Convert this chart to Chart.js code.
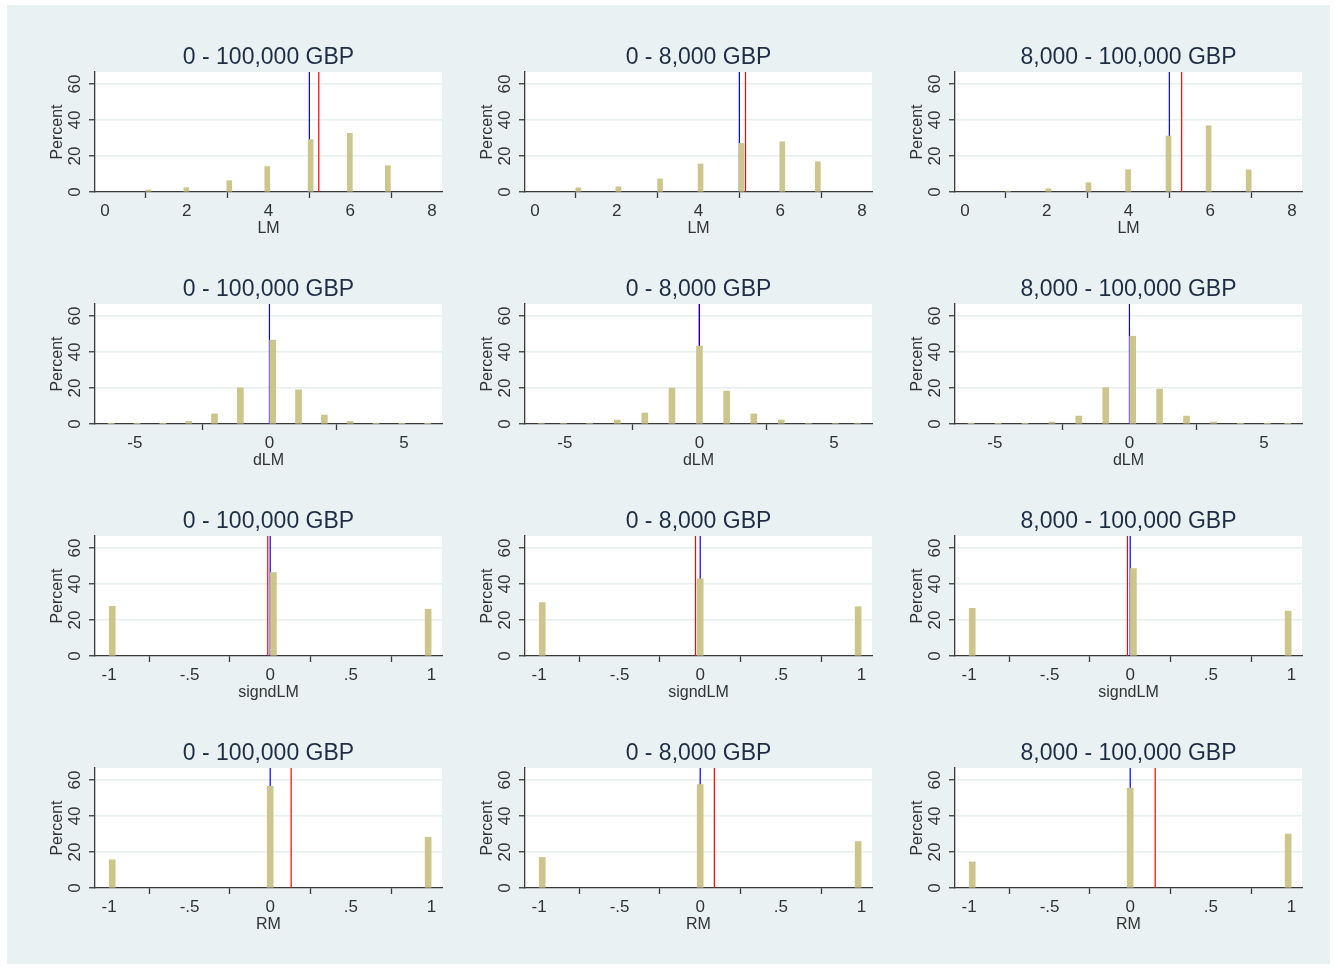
<!DOCTYPE html>
<html>
<head>
<meta charset="utf-8">
<script src="https://cdn.jsdelivr.net/npm/chart.js"></script>
<style>
    body {
        margin: 0;
        background: #ffffff;
    }
    #graph {
        position: absolute;
        left: 7px;
        top: 5px;
        width: 1323px;
        height: 959px;
        background: #e9f1f3;
    }
    canvas {
        position: absolute;
    }
</style>
</head>
<body>
<div id="graph"></div>

<script>
    // ---- data ----
    const panelTitles = ['0 - 100,000 GBP', '0 - 8,000 GBP', '8,000 - 100,000 GBP'];
    const varNames = ['LM', 'dLM', 'signdLM', 'RM'];
    const yTicks = [0, 20, 40, 60];

    // LM: bin centres and percent, one row per column
    const lmBins = [
        [1.06, 1.99, 3.04, 3.97, 5.03, 5.99, 6.92],
        [1.06, 2.04, 3.06, 4.05, 5.05, 6.05, 6.92],
        [1.05, 2.04, 3.02, 3.99, 4.98, 5.96, 6.94]
    ];
    const lmPercent = [
        [1.1, 2.4, 6.3, 14.1, 29.1, 32.6, 14.6],
        [2.3, 2.9, 7.3, 15.6, 27.0, 27.9, 16.8],
        [0.5, 1.8, 5.2, 12.4, 31.1, 36.8, 12.3]
    ];
    const lmMedian = [5, 5, 5];
    const lmMean = [5.23, 5.15, 5.30];

    // dLM
    const dlmBins = [
        [-5.88, -4.92, -3.96, -3.0, -2.04, -1.08, 0.12, 1.08, 2.04, 3.0, 3.96, 4.92, 5.88],
        [-5.87, -5.05, -4.08, -3.05, -2.03, -1.02, 0.0, 1.01, 2.02, 3.04, 4.05, 5.05, 5.87],
        [-5.88, -4.88, -3.88, -2.88, -1.88, -0.88, 0.12, 1.12, 2.12, 3.12, 4.12, 5.12, 5.88]
    ];
    const dlmPercent = [
        [0.3, 0.3, 0.3, 1.4, 5.6, 20.1, 46.6, 19.0, 5.0, 1.4, 0.3, 0.3, 0.3],
        [0.4, 0.4, 0.4, 2.2, 6.1, 20.0, 43.3, 18.3, 5.6, 2.2, 0.4, 0.4, 0.4],
        [0.3, 0.3, 0.3, 1.1, 4.4, 20.2, 48.8, 19.4, 4.4, 1.1, 0.3, 0.3, 0.3]
    ];
    const dlmMedian = [0, 0, 0];
    const dlmMean = [0, -0.008, 0];

    // signdLM
    const signBins = [
        [-0.98, 0.02, 0.98],
        [-0.98, 0.0, 0.98],
        [-0.98, 0.02, 0.98]
    ];
    const signPercent = [
        [27.6, 46.4, 26.0],
        [29.7, 42.9, 27.4],
        [26.5, 48.6, 24.9]
    ];
    const signMedian = [0, 0, 0];
    const signMean = [-0.015, -0.029, -0.017];

    // RM
    const rmBins = [
        [-0.98, 0.0, 0.98],
        [-0.98, 0.0, 0.98],
        [-0.98, 0.0, 0.98]
    ];
    const rmPercent = [
        [15.7, 56.5, 28.2],
        [17.0, 57.5, 25.8],
        [14.5, 55.5, 30.0]
    ];
    const rmMedian = [0, 0, 0];
    const rmMean = [0.13, 0.088, 0.155];

    // x axis ticks per variable
    const lmTicks = [0, 2, 4, 6, 8];
    const dlmTicks = [-5, 0, 5];
    const unitTicks = [-1, -0.5, 0, 0.5, 1];
    const unitTickLabels = ['-1', '-.5', '0', '.5', '1'];

    // ---- build the grid of panels ----
    const rows = [
        { name: varNames[0], bins: lmBins, pct: lmPercent, med: lmMedian, mean: lmMean,
          ticks: lmTicks, labels: lmTicks.map(String), min: -0.245, max: 8.245, bar: 5 },
        { name: varNames[1], bins: dlmBins, pct: dlmPercent, med: dlmMedian, mean: dlmMean,
          ticks: dlmTicks, labels: dlmTicks.map(String), min: -6.48, max: 6.41, bar: 6 },
        { name: varNames[2], bins: signBins, pct: signPercent, med: signMedian, mean: signMean,
          ticks: unitTicks, labels: unitTickLabels, min: -1.087, max: 1.066, bar: 6 },
        { name: varNames[3], bins: rmBins, pct: rmPercent, med: rmMedian, mean: rmMean,
          ticks: unitTicks, labels: unitTickLabels, min: -1.087, max: 1.066, bar: 6 }
    ];

    const FONT = "'Liberation Sans', Arial, sans-serif";
    const barFill = '#cdc68c';
    const axisColor = '#3a3a3a';
    const textColor = '#333333';
    const gridColor = '#e6eef0';
    const yMax = 66.7;

    const plotBg = {
        id: 'plotBg',
        beforeDraw(chart) {
            const { ctx, chartArea: a } = chart;
            ctx.save();
            ctx.fillStyle = '#ffffff';
            ctx.fillRect(a.left, a.top, a.right - a.left, a.bottom - a.top);
            ctx.restore();
        }
    };

    rows.forEach((row, r) => {
        panelTitles.forEach((title, c) => {
            const chartLeft = 95 + 430 * c;
            const chartTop = 72 + 232 * r;

            const canvas = document.createElement('canvas');
            canvas.width = 457;
            canvas.height = 206;
            canvas.style.left = (chartLeft - 55) + 'px';
            canvas.style.top = (chartTop - 40) + 'px';
            document.body.appendChild(canvas);

            const vline = (x, color, order) => ({
                type: 'line',
                data: [{ x: x, y: 0 }, { x: x, y: yMax }],
                borderColor: color,
                borderWidth: 1.2,
                pointRadius: 0,
                order: order
            });

            // mean line only when it sits apart from the median line
            const datasets = [
                {
                    type: 'bar',
                    data: row.bins[c].map((x, i) => ({ x: x, y: row.pct[c][i] })),
                    backgroundColor: barFill,
                    borderWidth: 0,
                    barThickness: row.bar,
                    order: 0
                },
                vline(row.med[c], '#0000ff', 1)
            ];
            if (row.mean[c] !== row.med[c]) datasets.push(vline(row.mean[c], '#ff0000', 2));

            new Chart(canvas.getContext('2d'), {
                data: { datasets: datasets },
                options: {
                    responsive: false,
                    animation: false,
                    events: [],
                    layout: { padding: 0 },
                    plugins: {
                        legend: { display: false },
                        tooltip: { enabled: false },
                        title: {
                            display: true,
                            text: title,
                            color: '#1e2d44',
                            font: { family: FONT, size: 23, weight: 'normal' },
                            padding: { top: 11.5, bottom: 0.9 }
                        }
                    },
                    scales: {
                        x: {
                            type: 'linear',
                            min: row.min,
                            max: row.max,
                            offset: false,
                            afterBuildTicks: s => { s.ticks = row.ticks.map(v => ({ value: v })); },
                            afterFit: s => { s.height = 46; },
                            ticks: {
                                autoSkip: false,
                                maxRotation: 0,
                                padding: 3.5,
                                color: textColor,
                                font: { family: FONT, size: 17 },
                                callback: (v, i) => row.labels[i]
                            },
                            grid: {
                                drawOnChartArea: false,
                                drawTicks: true,
                                tickLength: 6,
                                tickColor: axisColor,
                                tickWidth: 1.3
                            },
                            border: { color: axisColor, width: 1.3 },
                            title: {
                                display: true,
                                text: row.name,
                                color: textColor,
                                font: { family: FONT, size: 16 },
                                padding: { top: 0, bottom: 0 }
                            }
                        },
                        y: {
                            min: 0,
                            max: yMax,
                            afterBuildTicks: s => { s.ticks = yTicks.map(v => ({ value: v })); },
                            afterFit: s => { s.width = 55; },
                            ticks: {
                                minRotation: 90,
                                maxRotation: 90,
                                crossAlign: 'center',
                                padding: 4,
                                color: textColor,
                                font: { family: FONT, size: 17 }
                            },
                            grid: {
                                color: ctx => (ctx.tick && ctx.tick.value === 0) ? 'rgba(0,0,0,0)' : gridColor,
                                lineWidth: 1.5,
                                tickLength: 6,
                                tickColor: axisColor,
                                tickWidth: 1.3
                            },
                            border: { color: axisColor, width: 1.3 },
                            title: {
                                display: true,
                                text: 'Percent',
                                color: textColor,
                                font: { family: FONT, size: 16 },
                                padding: { top: 7.5, bottom: 0 }
                            }
                        },
                        // empty right-hand axis so the title centres over the plot region
                        yRight: {
                            position: 'right',
                            afterFit: s => { s.width = 55; },
                            ticks: { display: false },
                            grid: { display: false },
                            border: { display: false }
                        }
                    }
                },
                plugins: [plotBg]
            });
        });
    });
</script>
</body>
</html>
